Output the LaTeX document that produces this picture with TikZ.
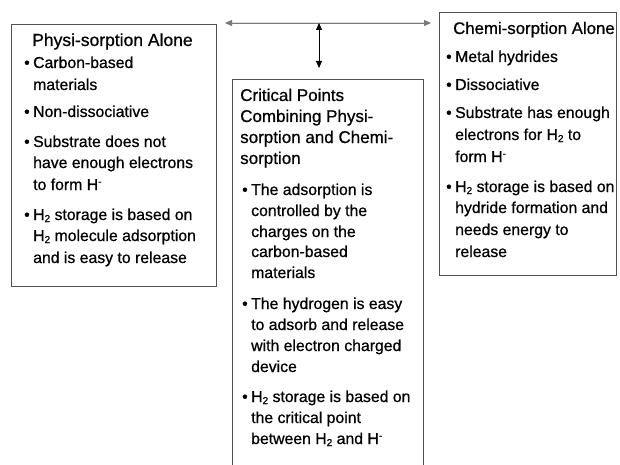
\documentclass[tikz,border=0pt]{standalone}
\usepackage{fontspec}
\setmainfont{Liberation Sans}[RawFeature={embolden=0.7}]
\usetikzlibrary{arrows.meta}
\definecolor{boxline}{HTML}{505050}
\definecolor{arrline}{HTML}{7A7A7A}
\newcommand{\bul}{\llap{\textbullet\hspace{3.5pt}}}
\newcommand{\Hsub}{H\raisebox{-2pt}{\fontsize{10}{10}\selectfont 2}}
\newcommand{\Hminus}{H\raisebox{5pt}{\fontsize{10}{10}\selectfont -}}
\begin{document}
\begin{tikzpicture}[x=1pt,y=-1pt,
  box/.style={draw=boxline, line width=0.9pt, anchor=north west, inner sep=0pt},
  txt/.style={anchor=base west, inner sep=0pt, font=\fontsize{15.8}{20}\selectfont},
  hdr/.style={anchor=base west, inner sep=0pt, font=\fontsize{17}{20}\selectfont},
  dtip/.style={{Triangle[length=7pt,width=6pt]}-{Triangle[length=7pt,width=6pt]}}]
\useasboundingbox[fill=white] (0,0) rectangle (620,465);
% boxes
\node[box, minimum width=205pt, minimum height=262pt] (left) at (11,24) {};
\node[box, minimum width=191pt, minimum height=400pt] (mid) at (232,79) {};
\node[box, minimum width=177pt, minimum height=263pt] (right) at (439,12) {};
% connectors
\coordinate (hl) at (225,23);
\coordinate (hr) at (431,23);
\coordinate (vt) at (319,23);
\coordinate (vb) at (319,68);
\draw[dtip, draw=arrline, line width=0.9pt, fill=black] (hl) -- (hr);
\draw[dtip, draw=black, line width=0.9pt, fill=black] (vt) -- (vb);
% left box text
\node[hdr, font=\fontsize{17.5}{20}\selectfont] (l0) at (32,46) {Physi-sorption Alone};
\node[txt] (l1) at (33,68) {\bul Carbon-based};
\node[txt] (l2) at (33,90) {materials};
\node[txt] (l3) at (33,117) {\bul Non-dissociative};
\node[txt] (l4) at (33,147) {\bul Substrate does not};
\node[txt] (l5) at (33,168) {have enough electrons};
\node[txt] (l6) at (33,190) {to form \Hminus};
\node[txt] (l7) at (33,220) {\bul \Hsub{} storage is based on};
\node[txt] (l8) at (33,241) {\Hsub{} molecule adsorption};
\node[txt] (l9) at (33,263) {and is easy to release};
% middle box text
\node[hdr] (m0) at (240,101) {Critical Points};
\node[hdr] (m1) at (240,122) {Combining Physi-};
\node[hdr] (m2) at (240,143) {sorption and Chemi-};
\node[hdr] (m3) at (240,164) {sorption};
\node[txt] (m4) at (251,195) {\bul The adsorption is};
\node[txt] (m5) at (251,216) {controlled by the};
\node[txt] (m6) at (251,237) {charges on the};
\node[txt] (m7) at (251,257) {carbon-based};
\node[txt] (m8) at (251,278) {materials};
\node[txt] (m9) at (251,309) {\bul The hydrogen is easy};
\node[txt] (m10) at (251,330) {to adsorb and release};
\node[txt] (m11) at (251,351) {with electron charged};
\node[txt] (m12) at (251,372) {device};
\node[txt] (m13) at (251,402) {\bul \Hsub{} storage is based on};
\node[txt] (m14) at (251,423) {the critical point};
\node[txt] (m15) at (251,444) {between \Hsub{} and \Hminus};
% right box text
\node[hdr, font=\fontsize{16.8}{20}\selectfont] (r0) at (453,34) {Chemi-sorption Alone};
\node[txt] (r1) at (455,62) {\bul Metal hydrides};
\node[txt] (r2) at (455,90) {\bul Dissociative};
\node[txt] (r3) at (455,118) {\bul Substrate has enough};
\node[txt] (r4) at (455,140) {electrons for \Hsub{} to};
\node[txt] (r5) at (455,162) {form \Hminus};
\node[txt] (r6) at (455,192) {\bul \Hsub{} storage is based on};
\node[txt] (r7) at (455,213) {hydride formation and};
\node[txt] (r8) at (455,235) {needs energy to};
\node[txt] (r9) at (455,257) {release};
\end{tikzpicture}
\end{document}
